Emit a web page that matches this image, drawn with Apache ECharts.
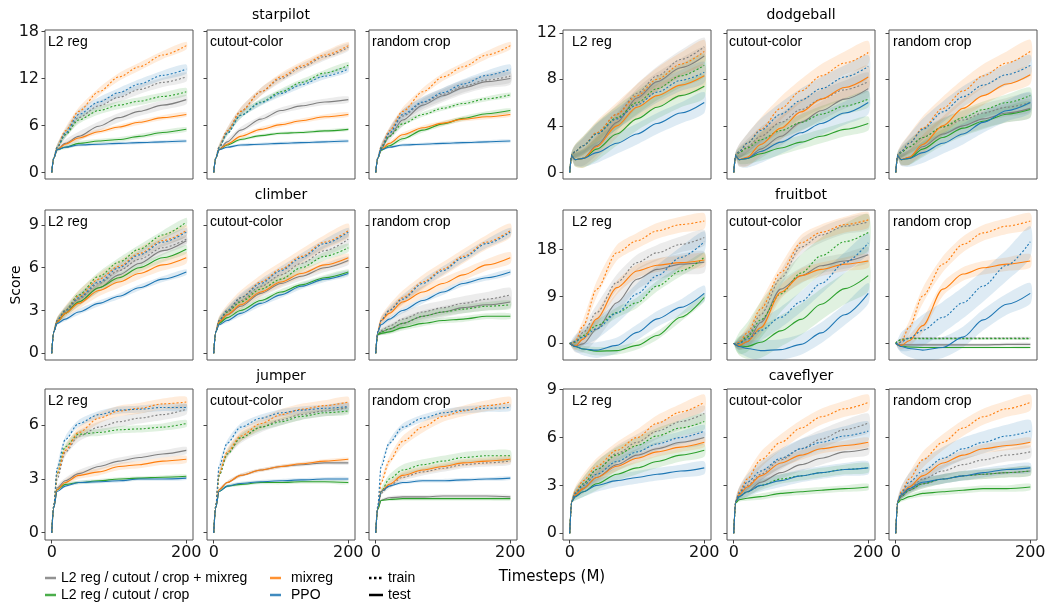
<!DOCTYPE html>
<html><head><meta charset="utf-8">
<script src="https://cdn.jsdelivr.net/npm/echarts@6/dist/echarts.min.js"></script>
<style>html,body{margin:0;padding:0;background:#fff}#chart{width:1058px;height:607px}</style>
</head><body><div id="chart"></div>
<script>
// ---------- data ----------
const timesteps = [0, 3, 8, 20, 40, 70, 100, 130, 165, 200];
const bandGrowth = [0, 0.3, 0.6, 0.8, 1, 1, 1, 1, 1, 1];
const games = ['starpilot', 'dodgeball', 'climber', 'fruitbot', 'jumper', 'caveflyer'];
const methods = ['L2 reg', 'cutout-color', 'random crop'];
const yTickValues = [[0, 6, 12, 18], [0, 4, 8, 12], [0, 3, 6, 9], [0, 9, 18], [0, 3, 6], [0, 3, 6, 9]];
const yLimits = [[-0.85, 18.2], [-0.57, 12.24], [-0.47, 10.05], [-3.2, 25.6], [-0.41, 8.03], [-0.42, 9.04]];
const xTickValues = [0, 200];
// series order in every panel: gray train, gray test, green train, green test, orange train, orange test, blue train, blue test
const legendNames = ['L2 reg / cutout / crop + mixreg', 'L2 reg / cutout / crop', 'mixreg', 'PPO'];

const starpilotL2 = [
  [0,1.8,3.2,4.8,7.0,8.5,9.6,10.6,11.5,12.2],
  [0,1.8,2.9,3.7,4.6,5.9,7.0,7.8,8.6,9.3],
  [0,1.8,3.2,4.8,6.7,7.9,8.6,9.1,9.7,10.3],
  [0,1.8,2.9,3.2,3.7,4.0,4.2,4.6,5.1,5.5],
  [0,1.8,3.3,5.3,7.8,10.3,12.2,13.5,15.0,16.2],
  [0,1.8,2.9,3.6,4.4,5.2,5.8,6.4,7.0,7.4],
  [0,1.8,3.2,5.0,7.4,9.0,10.2,11.3,12.4,13.2],
  [0,1.8,2.9,3.2,3.5,3.6,3.7,3.8,3.9,4.0]];
const starpilotL2Sd = [0.6,0.6,0.5,0.3,0.5,0.3,0.6,0.2];
const starpilotCutout = [
  [0,1.8,3.3,5.3,7.8,10.3,12.0,13.4,14.8,16.0],
  [0,1.8,2.9,3.9,5.4,6.8,7.9,8.5,9.0,9.3],
  [0,1.8,3.2,5.0,7.3,9.0,10.3,11.5,12.7,13.7],
  [0,1.8,2.9,3.5,4.2,4.7,5.0,5.1,5.3,5.5],
  [0,1.8,3.3,5.3,7.8,10.3,12.2,13.6,15.0,16.2],
  [0,1.8,2.9,3.6,4.6,5.5,6.1,6.6,7.1,7.4],
  [0,1.8,3.2,5.0,7.3,8.9,10.1,11.2,12.3,13.2],
  [0,1.8,2.9,3.2,3.5,3.6,3.7,3.8,3.9,4.0]];
const starpilotCutoutSd = [0.5,0.4,0.4,0.2,0.5,0.3,0.4,0.2];
const starpilotCrop = [
  [0,1.8,3.2,5.0,7.2,8.9,10.0,11.0,11.8,12.3],
  [0,1.8,3.0,4.6,6.7,8.6,9.8,10.8,11.6,12.0],
  [0,1.8,3.1,4.6,6.2,7.4,8.2,8.8,9.4,9.9],
  [0,1.8,2.8,3.4,4.3,5.4,6.2,6.9,7.5,7.9],
  [0,1.8,3.3,5.3,7.8,10.3,12.2,13.5,15.0,16.2],
  [0,1.8,2.9,3.7,4.8,5.7,6.3,6.8,7.1,7.4],
  [0,1.8,3.2,5.0,7.4,9.0,10.2,11.3,12.4,13.2],
  [0,1.8,2.9,3.2,3.5,3.6,3.7,3.8,3.9,4.0]];
const starpilotCropSd = [0.8,0.8,0.3,0.3,0.5,0.3,0.6,0.2];

const dodgeballL2 = [
  [0,1.5,1.8,2.3,3.4,5.0,6.8,8.3,9.7,10.8],
  [0,1.4,1.1,1.2,2.3,4.3,6.4,7.8,9.0,10.0],
  [0,1.5,1.8,2.3,3.3,4.7,6.0,7.2,8.3,9.2],
  [0,1.4,1.1,1.2,2.0,3.3,4.6,5.6,6.6,7.4],
  [0,1.5,1.8,2.3,3.4,5.0,6.6,8.0,9.3,10.4],
  [0,1.4,1.1,1.2,2.2,4.0,5.6,6.6,7.5,8.3],
  [0,1.5,1.8,2.3,3.3,4.6,5.8,6.9,7.9,8.6],
  [0,1.4,1.1,1.2,1.7,2.5,3.3,4.2,5.1,6.0]];
const dodgeballL2Sd = [0.8,0.8,1.0,1.0,1.0,1.0,0.9,0.9];
const dodgeballCutout = [
  [0,1.5,1.7,2.2,3.1,4.3,5.4,6.3,7.1,7.8],
  [0,1.4,1.1,1.2,2.0,3.1,4.3,5.3,6.3,7.2],
  [0,1.5,1.7,2.1,2.8,3.6,4.3,5.0,5.7,6.3],
  [0,1.4,1.1,1.2,1.6,2.1,2.6,3.1,3.7,4.2],
  [0,1.5,1.8,2.5,3.7,5.5,7.0,8.3,9.4,10.3],
  [0,1.4,1.1,1.3,2.4,3.8,5.2,6.3,7.3,8.2],
  [0,1.5,1.8,2.5,3.6,5.0,6.2,7.2,8.2,9.1],
  [0,1.4,1.1,1.2,1.8,2.6,3.4,4.2,5.1,6.0]];
const dodgeballCutoutSd = [0.8,0.8,0.7,0.6,1.0,1.0,1.0,1.0];
const dodgeballCrop = [
  [0,1.5,1.7,2.2,3.0,3.9,4.5,5.1,5.6,6.0],
  [0,1.4,1.1,1.3,2.2,3.3,4.0,4.6,5.1,5.5],
  [0,1.5,1.7,2.2,3.0,3.9,4.7,5.4,6.0,6.6],
  [0,1.4,1.1,1.2,2.0,3.0,3.8,4.4,5.0,5.4],
  [0,1.5,1.8,2.5,3.8,5.5,7.0,8.3,9.4,10.4],
  [0,1.4,1.1,1.3,2.4,4.0,5.5,6.6,7.6,8.4],
  [0,1.5,1.8,2.5,3.7,5.2,6.5,7.5,8.4,9.2],
  [0,1.4,1.1,1.2,1.7,2.5,3.3,4.3,5.3,6.0]];
const dodgeballCropSd = [0.8,0.8,0.7,0.7,1.0,0.8,0.9,0.9];

const climberL2 = [
  [0,1.5,2.3,2.9,3.8,4.9,5.8,6.6,7.4,8.0],
  [0,1.5,2.2,2.8,3.6,4.6,5.5,6.3,7.2,7.9],
  [0,1.5,2.3,3.0,4.1,5.4,6.4,7.3,8.3,9.2],
  [0,1.5,2.2,2.8,3.6,4.6,5.3,6.0,6.7,7.3],
  [0,1.5,2.3,3.0,4.0,5.2,6.1,7.0,7.9,8.6],
  [0,1.5,2.2,2.8,3.5,4.4,5.0,5.6,6.2,6.7],
  [0,1.5,2.3,3.0,3.9,5.0,6.0,6.9,7.8,8.5],
  [0,1.5,2.1,2.4,2.9,3.5,4.0,4.6,5.2,5.7]];
const climberL2Sd = [0.3,0.3,0.3,0.3,0.4,0.4,0.3,0.2];
const climberCutout = [
  [0,1.5,2.3,2.9,3.7,4.7,5.5,6.3,7.2,8.0],
  [0,1.5,2.2,2.7,3.3,4.2,4.9,5.4,6.0,6.5],
  [0,1.5,2.3,2.9,3.6,4.5,5.2,6.0,6.8,7.4],
  [0,1.5,2.1,2.5,3.0,3.7,4.3,4.8,5.3,5.7],
  [0,1.5,2.3,3.0,3.9,5.0,5.9,6.8,7.8,8.6],
  [0,1.5,2.2,2.7,3.4,4.3,5.0,5.6,6.2,6.7],
  [0,1.5,2.3,3.0,3.9,4.9,5.8,6.7,7.7,8.5],
  [0,1.5,2.0,2.3,2.8,3.5,4.1,4.7,5.2,5.6]];
const climberCutoutSd = [0.4,0.3,0.3,0.2,0.5,0.3,0.3,0.2];
const climberCrop = [
  [0,1.3,1.6,1.9,2.4,2.9,3.2,3.5,3.8,4.1],
  [0,1.3,1.5,1.7,2.1,2.6,2.9,3.2,3.4,3.6],
  [0,1.3,1.5,1.7,2.1,2.6,2.9,3.1,3.3,3.4],
  [0,1.3,1.4,1.5,1.8,2.1,2.3,2.4,2.6,2.6],
  [0,1.5,2.3,3.0,3.9,5.0,5.9,6.8,7.8,8.6],
  [0,1.5,2.3,2.8,3.6,4.3,4.9,5.5,6.2,6.7],
  [0,1.5,2.3,3.0,3.8,4.9,5.8,6.7,7.7,8.5],
  [0,1.5,2.0,2.4,3.0,3.7,4.3,4.9,5.3,5.7]];
const climberCropSd = [0.5,0.4,0.3,0.2,0.5,0.4,0.3,0.2];

const fruitbotL2 = [
  [0,0,0.3,2.1,5.9,11.7,15.5,17.4,19.0,20.3],
  [0,-0.3,-0.5,-0.1,2.7,7.8,12.3,14.2,15.2,15.6],
  [0,0,0.2,1.5,3.4,5.9,7.8,11.0,13.9,16.5],
  [0,-0.3,-0.6,-1.1,-1.5,-1.4,-0.4,1.5,5.0,8.8],
  [0,-0.1,0.4,3.4,10.4,17.4,19.7,21.6,22.8,23.5],
  [0,-0.3,-0.5,0.8,4.7,10.7,13.9,15.0,15.5,16.0],
  [0,0.1,0.4,1.2,2.8,5.8,9.5,13.0,16.5,19.5],
  [0,-0.3,-0.6,-1.1,-1.3,-0.4,2.1,4.7,6.9,9.6]];
const fruitbotL2Sd = [1.5,2.0,1.0,0.8,1.5,1.3,2.0,1.5];
const fruitbotCutout = [
  [0,-0.2,0.1,1.5,5.5,12.5,18.5,20.8,22.5,23.3],
  [0,-0.3,-0.4,0.3,4.0,10.4,13.0,14.9,15.8,17.0],
  [0,-0.2,0,1.2,4.5,9.5,13.5,16.8,19.5,21.3],
  [0,-0.3,-0.5,-0.6,0.2,2.4,4.6,7.5,10.5,13.0],
  [0,-0.2,0.2,2.0,6.6,13.6,19.3,21.3,22.8,23.7],
  [0,-0.3,-0.4,0.3,3.0,9.8,13.0,14.2,15.2,15.8],
  [0,-0.2,0,0.8,2.5,5.0,8.0,11.5,15.5,19.3],
  [0,-0.3,-0.6,-1.0,-1.4,-1.2,-0.2,2.0,5.5,9.6]];
const fruitbotCutoutSd = [1.5,1.5,3.5,3.0,1.5,1.3,2.0,2.0];
const fruitbotCrop = [
  [0,0.5,0.8,1.0,1.0,1.0,1.0,1.0,1.0,1.0],
  [0,-0.2,-0.3,-0.3,-0.3,-0.3,-0.3,-0.3,-0.2,-0.2],
  [0,0.4,0.7,0.9,0.9,0.9,0.9,0.9,0.9,0.9],
  [0,-0.3,-0.5,-0.7,-0.8,-0.8,-0.8,-0.8,-0.8,-0.8],
  [0,-0.2,0.3,3.1,9.1,15.2,19.0,21.2,22.5,23.5],
  [0,-0.3,-0.4,0.5,3.4,10.4,13.3,14.5,15.2,15.8],
  [0,-0.1,0.3,1.0,2.5,5.0,7.8,11.0,15.0,19.5],
  [0,-0.3,-0.6,-1.0,-1.3,-0.8,1.2,4.5,7.5,9.6]];
const fruitbotCropSd = [0.2,0.3,0.2,0.2,1.5,1.3,3.0,2.0];

const jumperL2 = [
  [0,1.5,3.0,4.5,5.4,5.9,6.2,6.4,6.6,6.9],
  [0,1.4,2.5,2.9,3.3,3.7,4.0,4.2,4.4,4.6],
  [0,1.5,3.3,4.8,5.5,5.6,5.75,5.8,5.9,6.1],
  [0,1.4,2.4,2.7,2.8,2.9,3.0,3.05,3.1,3.15],
  [0,1.5,3.3,4.6,5.6,6.4,6.8,6.95,7.2,7.3],
  [0,1.4,2.4,2.8,3.2,3.4,3.7,3.8,4.0,4.1],
  [0,1.5,3.6,5.2,6.1,6.6,6.85,6.9,7.0,7.0],
  [0,1.4,2.3,2.6,2.8,2.85,2.9,3.0,3.0,3.05]];
const jumperL2Sd = [0.3,0.2,0.2,0.1,0.3,0.2,0.2,0.1];
const jumperCutout = [
  [0,1.5,3.2,4.4,5.3,5.9,6.3,6.6,6.8,7.0],
  [0,1.4,2.4,2.8,3.2,3.5,3.7,3.8,3.9,3.9],
  [0,1.5,3.2,4.4,5.3,5.9,6.2,6.5,6.7,6.8],
  [0,1.4,2.3,2.6,2.7,2.8,2.8,2.85,2.85,2.8],
  [0,1.5,3.3,4.5,5.4,6.1,6.6,6.9,7.1,7.3],
  [0,1.4,2.4,2.8,3.2,3.5,3.7,3.85,4.0,4.1],
  [0,1.5,3.7,5.0,5.9,6.4,6.7,6.85,6.95,7.05],
  [0,1.4,2.3,2.6,2.75,2.85,2.9,2.95,3.0,3.0]];
const jumperCutoutSd = [0.3,0.1,0.2,0.1,0.3,0.1,0.2,0.1];
const jumperCrop = [
  [0,1.4,2.2,2.6,3.1,3.4,3.6,3.8,3.9,4.0],
  [0,1.3,1.8,1.95,2.0,2.0,2.05,2.05,2.05,2.0],
  [0,1.4,2.3,3.0,3.5,3.8,4.0,4.2,4.3,4.3],
  [0,1.3,1.8,1.85,1.9,1.9,1.9,1.9,1.9,1.9],
  [0,1.4,2.8,4.0,5.1,5.9,6.5,6.8,7.1,7.3],
  [0,1.4,2.3,2.7,3.2,3.5,3.7,3.9,4.0,4.1],
  [0,1.5,3.7,5.0,5.9,6.4,6.7,6.85,6.95,7.0],
  [0,1.4,2.3,2.6,2.8,2.9,2.9,2.95,3.0,3.05]];
const jumperCropSd = [0.2,0.1,0.3,0.1,0.3,0.2,0.2,0.1];

const caveflyerL2 = [
  [0,2.0,2.5,3.1,4.0,5.0,5.7,6.4,7.0,7.5],
  [0,2.0,2.4,2.8,3.5,4.3,4.9,5.3,5.7,6.0],
  [0,2.0,2.5,3.1,4.0,4.9,5.5,6.1,6.6,7.0],
  [0,2.0,2.3,2.6,3.1,3.7,4.1,4.5,4.9,5.2],
  [0,2.0,2.6,3.3,4.2,5.2,6.0,6.9,7.6,8.2],
  [0,2.0,2.4,2.8,3.5,4.2,4.7,5.1,5.4,5.7],
  [0,2.0,2.5,3.0,3.7,4.5,5.1,5.6,6.0,6.4],
  [0,2.0,2.3,2.6,3.0,3.3,3.5,3.7,3.9,4.1]];
const caveflyerL2Sd = [0.5,0.4,0.5,0.4,0.5,0.3,0.4,0.4];
const caveflyerCutout = [
  [0,2.0,2.5,3.0,3.7,4.6,5.3,5.9,6.5,6.9],
  [0,2.0,2.3,2.6,3.2,3.8,4.3,4.7,5.1,5.3],
  [0,2.0,2.3,2.6,3.0,3.4,3.6,3.8,4.0,4.1],
  [0,1.9,2.1,2.2,2.3,2.5,2.6,2.7,2.8,2.9],
  [0,2.0,2.6,3.4,4.6,5.7,6.6,7.3,7.8,8.2],
  [0,2.0,2.4,2.9,3.6,4.4,4.9,5.3,5.5,5.7],
  [0,2.0,2.5,3.2,3.9,4.7,5.3,5.7,6.1,6.4],
  [0,2.0,2.3,2.6,3.0,3.3,3.6,3.8,4.0,4.1]];
const caveflyerCutoutSd = [0.6,0.4,0.3,0.2,0.5,0.3,0.6,0.4];
const caveflyerCrop = [
  [0,2.0,2.4,2.8,3.4,3.9,4.3,4.6,4.9,5.1],
  [0,2.0,2.3,2.7,3.1,3.4,3.6,3.7,3.8,3.9],
  [0,2.0,2.3,2.7,3.1,3.4,3.6,3.7,3.8,3.9],
  [0,1.9,2.1,2.3,2.5,2.6,2.7,2.8,2.8,2.9],
  [0,2.0,2.6,3.4,4.6,5.7,6.6,7.3,7.8,8.2],
  [0,2.0,2.4,2.9,3.6,4.4,4.9,5.3,5.5,5.7],
  [0,2.0,2.5,3.2,3.9,4.7,5.3,5.7,6.1,6.4],
  [0,2.0,2.4,2.8,3.2,3.4,3.6,3.8,4.0,4.1]];
const caveflyerCropSd = [0.4,0.3,0.3,0.2,0.5,0.3,0.7,0.3];

// ---------- layout / style ----------
const panelMeans = [
  [starpilotL2, starpilotCutout, starpilotCrop],
  [dodgeballL2, dodgeballCutout, dodgeballCrop],
  [climberL2, climberCutout, climberCrop],
  [fruitbotL2, fruitbotCutout, fruitbotCrop],
  [jumperL2, jumperCutout, jumperCrop],
  [caveflyerL2, caveflyerCutout, caveflyerCrop]];
const panelSds = [
  [starpilotL2Sd, starpilotCutoutSd, starpilotCropSd],
  [dodgeballL2Sd, dodgeballCutoutSd, dodgeballCropSd],
  [climberL2Sd, climberCutoutSd, climberCropSd],
  [fruitbotL2Sd, fruitbotCutoutSd, fruitbotCropSd],
  [jumperL2Sd, jumperCutoutSd, jumperCropSd],
  [caveflyerL2Sd, caveflyerCutoutSd, caveflyerCropSd]];

const palette = ['#7f7f7f', '#2ca02c', '#ff7f0e', '#1f77b4'];
const blockLefts = [[45, 207, 369], [563, 727, 889]];
const labelOffsets = [[3, 3, 3], [9, 2, 4]];
const rowTops = [30, 210, 389];
const rowHeights = [149, 150, 151];
const panelW = 148;
const axisFont = 'DejaVu Sans';
const textFont = 'Liberation Sans, Arial, sans-serif';

const grids = [], xAxes = [], yAxes = [], series = [], graphics = [];

games.forEach((game, g) => {
  const row = Math.floor(g / 2), block = g % 2;
  const ticks = yTickValues[g];
  for (let m = 0; m < 3; m++) {
    const idx = g * 3 + m;
    const left = blockLefts[block][m];
    grids.push({left: left, top: rowTops[row], width: panelW, height: rowHeights[row],
      show: true, borderColor: '#555', borderWidth: 1, backgroundColor: 'transparent', containLabel: false});
    xAxes.push({gridIndex: idx, type: 'value', min: -10, max: 210, position: 'bottom',
      splitLine: {show: false}, axisLine: {show: false, onZero: false},
      axisTick: {show: row === 2, customValues: xTickValues, length: 3.5, lineStyle: {color: '#444'}},
      axisLabel: {show: row === 2, customValues: xTickValues, fontSize: 16, color: '#111', margin: 5, fontFamily: axisFont}});
    yAxes.push({gridIndex: idx, type: 'value', min: yLimits[g][0], max: yLimits[g][1], position: 'left',
      splitLine: {show: false}, axisLine: {show: false, onZero: false},
      axisTick: {show: true, customValues: ticks, length: 3.5, lineStyle: {color: '#444'}},
      axisLabel: {show: m === 0, customValues: ticks, fontSize: 16, color: '#111', margin: 6, fontFamily: axisFont}});

    const means = panelMeans[g][m], sds = panelSds[g][m];
    for (let s = 0; s < 8; s++) {
      const color = palette[Math.floor(s / 2)];
      const mean = means[s];
      const lo = mean.map((v, i) => v - sds[s] * bandGrowth[i]);
      const hi = mean.map((v, i) => v + sds[s] * bandGrowth[i]);
      series.push({
        type: 'custom', xAxisIndex: idx, yAxisIndex: idx, silent: true, clip: true, z: 1,
        data: timesteps.map((x, i) => [x, lo[i], hi[i]]),
        encode: {x: 0, y: [1, 2]},
        renderItem: (function (lo, hi, color) {
          return function (params, api) {
            if (params.dataIndex !== 0) return null;
            const pts = [];
            for (let i = 0; i < timesteps.length; i++) pts.push(api.coord([timesteps[i], hi[i]]));
            for (let i = timesteps.length - 1; i >= 0; i--) pts.push(api.coord([timesteps[i], lo[i]]));
            return {type: 'polygon', shape: {points: pts, smooth: 0.25},
              style: {fill: color, opacity: 0.15}};
          };
        })(lo, hi, color)
      });
      series.push({
        type: 'line', xAxisIndex: idx, yAxisIndex: idx, silent: true, z: 3,
        name: legendNames[Math.floor(s / 2)] + (s % 2 === 0 ? ' train' : ' test'),
        data: timesteps.map((x, i) => [x, mean[i]]),
        symbol: 'none', showSymbol: false, smooth: 0.3, smoothMonotone: 'x', clip: true,
        lineStyle: {width: 1.1, color: color, type: s % 2 === 0 ? [2, 2] : 'solid'}
      });
    }
    graphics.push({type: 'text', x: left + labelOffsets[block][m], y: rowTops[row] + 12,
      style: {text: methods[m], font: '14px ' + textFont, fill: '#000', textAlign: 'left', textVerticalAlign: 'middle'}});
  }
  const titleY = [15, 195, 376][row];
  graphics.push({type: 'text', x: blockLefts[block][1] + panelW / 2, y: titleY,
    style: {text: game, font: '14px ' + axisFont, fill: '#000', textAlign: 'center', textVerticalAlign: 'middle'}});
});

// axis names
graphics.push({type: 'text', x: 16, y: 285, rotation: Math.PI / 2,
  style: {text: 'Score', font: '14px ' + axisFont, fill: '#000', textAlign: 'center', textVerticalAlign: 'middle'}});
graphics.push({type: 'text', x: 552, y: 577,
  style: {text: 'Timesteps (M)', font: '15px ' + axisFont, fill: '#000', textAlign: 'center', textVerticalAlign: 'middle'}});

// legend
const legendRows = [578, 595];
const legendItems = [
  {x: 45, row: 0, color: palette[0], dash: null, text: legendNames[0]},
  {x: 45, row: 1, color: palette[1], dash: null, text: legendNames[1]},
  {x: 270, row: 0, color: palette[2], dash: null, text: legendNames[2]},
  {x: 270, row: 1, color: palette[3], dash: null, text: legendNames[3]},
  {x: 369, row: 0, color: '#000', dash: [2.5, 2.5], text: 'train'},
  {x: 369, row: 1, color: '#000', dash: null, text: 'test'}];
legendItems.forEach(it => {
  const y = legendRows[it.row];
  const len = it.x === 369 ? 14 : 11;
  graphics.push({type: 'line', shape: {x1: it.x, y1: y, x2: it.x + len, y2: y},
    style: {stroke: it.color, lineWidth: 2.5, lineDash: it.dash, opacity: it.x === 369 ? 1 : 0.85}});
  graphics.push({type: 'text', x: it.x + (it.x === 369 ? 19 : (it.x === 45 ? 16 : 21)), y: y,
    style: {text: it.text, font: '14px ' + textFont, fill: '#000', textAlign: 'left', textVerticalAlign: 'middle'}});
});

const chart = echarts.init(document.getElementById('chart'), null, {renderer: 'canvas'});
chart.setOption({
  animation: false,
  backgroundColor: '#fff',
  grid: grids, xAxis: xAxes, yAxis: yAxes, series: series, graphic: graphics
});
</script></body></html>
